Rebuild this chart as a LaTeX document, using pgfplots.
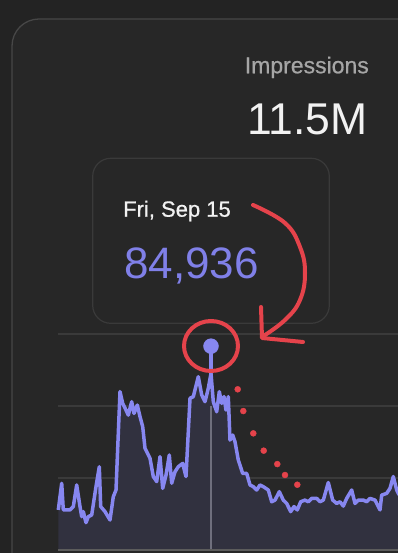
\documentclass[border=0pt]{standalone}
\usepackage{fontspec}
\setmainfont{Liberation Sans}
\newfontfamily\medfont[FakeBold=0.7]{Liberation Sans}
\usepackage{pgfplots}
\usepackage{pgfplotstable}
\pgfplotsset{compat=1.18}
\definecolor{bgc}{HTML}{232323}
\definecolor{cardc}{HTML}{272727}
\definecolor{cardborder}{HTML}{474747}
\definecolor{tipborder}{HTML}{3A3A3A}
\definecolor{gridc}{HTML}{3A3A3A}
\definecolor{axisc}{HTML}{5C5C5C}
\definecolor{areac}{HTML}{31313F}
\definecolor{linec}{HTML}{8787F0}
\definecolor{cursorc}{HTML}{6F6F7D}
\definecolor{redc}{HTML}{E5434B}
\definecolor{labelc}{HTML}{A6A6A6}
\definecolor{whitec}{HTML}{F2F2F2}
\definecolor{valc}{HTML}{8080E8}

\pgfplotstableread{
x v
58.3 16.7
61.7 27.8
63.3 16.7
70 16.7
73.3 18.1
76.7 27.1
80 18.1
81.7 13.9
83.3 16.0
86 11.4
88.3 13.9
91.7 14.6
96 26.4
99.3 34.7
100.7 18.1
105 16.0
110 12.5
113.3 22.2
116 25
120 66.0
122.7 61.1
126 58.3
128.3 56.2
131.7 61.8
134 56.9
137.3 60.4
140 55.6
142.7 51.4
145 42.4
150 38.2
153.3 30.6
156.7 28.5
160 38.9
162.7 25.7
166 31.2
169.3 39.6
171.7 27.8
175 32.6
178.3 34.7
182.7 36.1
186 30.6
190 63.2
193.3 63.9
198.3 72.2
201.7 64.6
205 61.8
208.3 67.4
211 73.6
213.3 61.8
216.7 57.6
219.3 66.0
221.7 61.1
224 63.9
226 58.3
228.3 63.9
230 45.8
232.7 47.9
235 45.1
238.3 37.5
242.7 31.9
246.7 31.9
250 27.1
253.3 26.4
256.7 25
260 27.1
263.3 26.4
268.3 25
271.7 20.1
275 20.8
279.3 24.3
283.3 20.8
286.7 19.4
290.7 16.0
294 18.1
297.3 16.7
300.7 20.1
305 20.8
308.3 20.1
311.7 21.5
316.7 21.5
320 20.1
323.3 20.8
328.3 28.1
332.7 20.8
336.7 19.4
340 20.1
343.3 18.3
346.7 21.5
351.7 25
355 19.4
358.3 20.8
363.3 20.8
366.7 20.1
370 21.5
375 20.8
380 16.7
381.7 22.9
386.7 23.6
390 25.7
393.3 30.6
396.7 25
399 23
}\impdata

\pgfplotstableread{
x v
237.7 66.96
243.3 57.9
253.3 48.6
263.7 41.4
277.3 35.8
285 31.25
297.3 27.2
}\trenddata

\begin{document}
\begin{tikzpicture}
\path[use as bounding box, fill=bgc] (0,0) rectangle (398bp,553bp);
\begin{scope}
\clip (0,0) rectangle (398bp,553bp);
\draw[fill=cardc, draw=cardborder, line width=1.3bp, rounded corners=27bp]
  (12bp,-30bp) rectangle (440bp,534bp);
\end{scope}
% header texts
\node[anchor=base east, inner sep=0, text=labelc, font=\medfont\fontsize{23bp}{27bp}\selectfont]
  at (369bp,479.7bp) {Impressions};
\node[anchor=base east, inner sep=0, text=whitec, font=\fontsize{44.5bp}{50bp}\selectfont]
  at (368bp,418bp) {11.5M};
% tooltip
\draw[draw=tipborder, line width=1.2bp, rounded corners=18bp]
  (92.7bp,229.7bp) rectangle (329.3bp,394.7bp);
\node[anchor=base west, inner sep=0, text=whitec, font=\medfont\fontsize{22bp}{26bp}\selectfont]
  at (123bp,336.3bp) {Fri, Sep 15};
\node[anchor=base west, inner sep=0, text=valc, font=\fontsize{44bp}{50bp}\selectfont]
  at (124bp,274.7bp) {84,936};

\begin{axis}[
  at={(58bp,3bp)}, anchor=south west,
  width=340bp, height=216bp, scale only axis,
  xmin=58, xmax=398, ymin=0, ymax=90,
  clip=false,
  axis line style={draw=none},
  xtick=\empty, ytick={30,60,90}, yticklabels={},
  major tick length=0pt,
  ymajorgrids, major grid style={color=gridc, line width=1.3bp},
]
\addplot[fill=areac, draw=none] table[x=x, y=v] {\impdata} \closedcycle;
\draw[color=axisc, line width=2.5bp] (axis cs:58,0) -- (axis cs:398,0);
\draw[color=cursorc, line width=2bp] (axis cs:211,60) -- (axis cs:211,0.6);
\addplot[color=linec, line width=3.5bp, line join=round] table[x=x, y=v] {\impdata};
\draw[color=linec, line width=3.5bp] (axis cs:211,84.9) -- (axis cs:211,73.6);
\addplot[only marks, mark=*, mark size=7.5bp, mark options={fill=linec, draw=linec}] coordinates {(211,84.936)};
\addplot[only marks, mark=*, mark size=3bp, mark options={fill=redc, draw=redc}] table[x=x, y=v] {\trenddata};
\end{axis}

% red hand annotations
\draw[redc, line width=4bp] (211bp,207bp) ellipse [x radius=27bp, y radius=25bp];
\draw[redc, line width=4bp, line cap=round, line join=round]
  plot[smooth, tension=0.7] coordinates {(253bp,348bp) (285bp,330bp) (300bp,306bp) (305bp,280bp) (300bp,253bp) (285bp,233bp) (262bp,216bp)};
\draw[redc, line width=4bp, line cap=round, line join=round]
  (261bp,246bp) -- (262bp,215bp) -- (303bp,211bp);
\end{tikzpicture}
\end{document}
